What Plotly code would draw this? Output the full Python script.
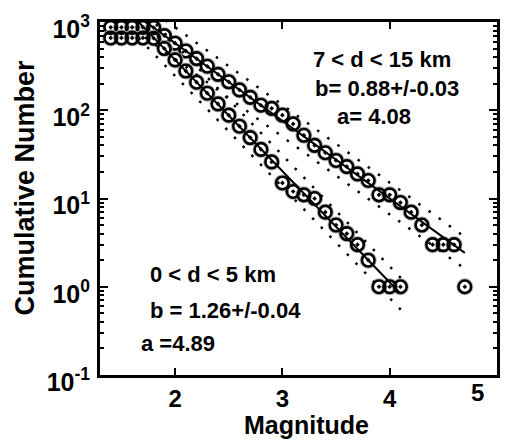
import plotly.graph_objects as go

# Cumulative counts N(>=M), magnitude step 0.1
mag_deep = [1.4, 1.5, 1.6, 1.7, 1.8, 1.9, 2.0, 2.1, 2.2, 2.3, 2.4, 2.5, 2.6, 2.7, 2.8,
            2.9, 3.0, 3.1, 3.2, 3.3, 3.4, 3.5, 3.6, 3.7, 3.8, 3.9, 4.0, 4.1, 4.2, 4.3,
            4.4, 4.5, 4.6, 4.7]
count_deep = [870, 870, 870, 870, 865, 700, 575, 470, 385, 315, 255, 210, 170, 140, 114,
              105, 88, 70, 52, 40, 33, 27, 23, 19, 16, 11, 11, 9, 7, 5,
              3, 3, 3, 1]

mag_shallow = [1.4, 1.5, 1.6, 1.7, 1.8, 1.9, 2.0, 2.1, 2.2, 2.3, 2.4, 2.5, 2.6, 2.7, 2.8,
               2.9, 3.0, 3.1, 3.2, 3.3, 3.4, 3.5, 3.6, 3.7, 3.8, 3.9, 4.0, 4.1]
count_shallow = [660, 660, 660, 660, 655, 500, 372, 278, 208, 156, 118, 88, 66, 49, 36,
                 26, 15, 12, 11, 10, 7, 5, 4, 3, 2, 1, 1, 1]

# Gutenberg-Richter fits: log10 N = c - b*M
b_deep, c_deep = 0.88, 4.52
b_shallow, c_shallow = 1.26, 5.09
fit_range_deep = [1.72, 4.70]
fit_range_shallow = [1.66, 4.10]
band = 0.18  # half-width of the dotted bounds in log10 N

y_tickvals = [0.1, 1, 10, 100, 1000]
y_ticktext = ["10<sup>-1</sup>", "10<sup>0</sup>", "10<sup>1</sup>", "10<sup>2</sup>", "10<sup>3</sup>"]
x_tickvals = [2, 3, 4, 5]
x_ticktext = ["2", "3", "4", ""]

FONT = "Liberation Sans, Arial, sans-serif"

fig = go.Figure()


def add_fit(mags, c, b):
    m0, m1 = mags
    for off, dash, w in [(0.0, "solid", 2), (band, "2.5px,10px", 2.5), (-band, "2.5px,10px", 2.5)]:
        ext = 0.04 if off else 0.0
        xs = [m0, m1 + ext]
        ys = [10 ** (c + off - b * m) for m in xs]
        fig.add_trace(go.Scatter(x=xs, y=ys, mode="lines",
                                 line=dict(color="black", width=w, dash=dash),
                                 hoverinfo="skip"))


for mags, counts in [(mag_deep, count_deep), (mag_shallow, count_shallow)]:
    # soft grey halo behind each ring
    fig.add_trace(go.Scatter(x=mags, y=counts, mode="markers", hoverinfo="skip",
                             marker=dict(symbol="circle-open", size=14, color="#b0b0b0",
                                         line=dict(width=3, color="#b0b0b0"))))
    fig.add_trace(go.Scatter(x=mags, y=counts, mode="markers",
                             marker=dict(symbol="circle-open-dot", size=12.5, color="black",
                                         line=dict(width=2.6, color="black"))))

add_fit(fit_range_deep, c_deep, b_deep)
add_fit(fit_range_shallow, c_shallow, b_shallow)

fig.update_layout(
    width=509, height=444,
    margin=dict(l=100, r=9, t=22, b=69),
    plot_bgcolor="white", paper_bgcolor="white",
    showlegend=False,
    font=dict(family=FONT, color="black"),
)

fig.update_xaxes(
    range=[1.3, 5.0], tickvals=x_tickvals, ticktext=x_ticktext,
    ticks="inside", ticklen=7, tickwidth=2, tickcolor="black",
    showline=True, linewidth=3, linecolor="black", mirror="ticks",
    showgrid=False, zeroline=False,
    tickfont=dict(family=FONT, size=24, weight="bold", color="black"),
)
fig.update_yaxes(
    type="log", range=[-1, 3], tickvals=y_tickvals, ticktext=y_ticktext,
    ticks="inside", ticklen=8, tickwidth=2, tickcolor="black",
    minor=dict(ticks="inside", ticklen=4, tickwidth=1.5, tickcolor="black",
               dtick="D1", showgrid=False),
    showline=True, linewidth=3, linecolor="black", mirror="ticks",
    showgrid=False, zeroline=False,
    ticklabelshift=7, ticklabelstandoff=2, ticklabeloverflow="allow",
    tickfont=dict(family=FONT, size=25, weight="bold", color="black"),
)

bold = dict(family=FONT, size=22, weight="bold", color="black")
texts = [
    ("7 < d < 15 km", 0.71, 0.895),
    ("b= 0.88+/-0.03", 0.7225, 0.813),
    ("a= 4.08", 0.69, 0.731),
    ("0 < d < 5 km", 0.285, 0.286),
    ("b = 1.26+/-0.04", 0.315, 0.184),
    ("a =4.89", 0.1975, 0.088),
]
for t, x, y in texts:
    fig.add_annotation(text=t, x=x, y=y, xref="paper", yref="paper",
                       showarrow=False, font=bold, xanchor="center", yanchor="middle")

# right-most magnitude label sits inside the frame corner
fig.add_annotation(text="5", x=0.95, y=-0.05, xref="paper", yref="paper", showarrow=False,
                   font=dict(family=FONT, size=24, weight="bold", color="black"),
                   xanchor="center", yanchor="middle")

fig.add_annotation(text="Magnitude", x=0.52, y=-0.142, xref="paper", yref="paper",
                   showarrow=False, font=dict(family=FONT, size=25, weight="bold", color="black"),
                   xanchor="center", yanchor="middle")
fig.add_annotation(text="Cumulative Number", x=-0.19, y=0.53, xref="paper", yref="paper",
                   showarrow=False, textangle=-90,
                   font=dict(family=FONT, size=27, weight="bold", color="black"),
                   xanchor="center", yanchor="middle")

fig.write_html("out.html")
